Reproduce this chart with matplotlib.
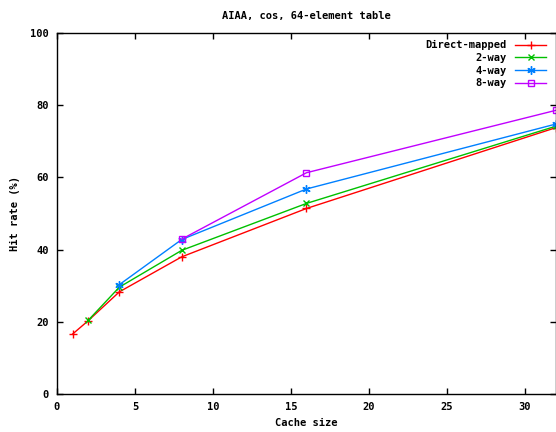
import matplotlib
matplotlib.use("Agg")
import matplotlib.pyplot as plt

title = "AIAA, cos, 64-element table"
xlabel = "Cache size"
ylabel = "Hit rate (%)"

dm_x = [1, 2, 4, 8, 16, 32]
dm_y = [16.6, 20.3, 28.3, 38.0, 51.4, 73.8]
w2_x = [2, 4, 8, 16, 32]
w2_y = [20.4, 29.6, 39.8, 52.8, 74.2]
w4_x = [4, 8, 16, 32]
w4_y = [30.3, 42.8, 56.8, 74.8]
w8_x = [8, 16, 32]
w8_y = [42.9, 61.3, 78.6]

xticks = [0, 5, 10, 15, 20, 25, 30]
yticks = [0, 20, 40, 60, 80, 100]

plt.rcParams['font.family'] = ['DejaVu Sans Mono']
plt.rcParams['font.weight'] = 'bold'
plt.rcParams['font.size'] = 7.5

fig = plt.figure(figsize=(5.56, 4.32), dpi=100)
ax = fig.add_axes([0.1025, 0.088, 0.8975, 0.8355])

ax.plot(dm_x, dm_y, color='#ff0000', lw=1, marker='+', ms=6, mew=1, label='Direct-mapped')
ax.plot(w2_x, w2_y, color='#00c000', lw=1, marker='x', ms=5, mew=1, label='2-way')
ax.plot(w4_x, w4_y, color='#0080ff', lw=1, marker=(6, 2, 0), ms=6, mew=1, label='4-way')
ax.plot(w8_x, w8_y, color='#c000ff', lw=1, marker='s', ms=5, mew=1, mfc='none', label='8-way')

ax.set_xlim(0, 32)
ax.set_ylim(0, 100)
ax.set_xticks(xticks)
ax.set_yticks(yticks)
ax.tick_params(direction='in', top=True, right=True, length=4, width=1, pad=6)
for s in ax.spines.values():
    s.set_linewidth(1)

ax.set_title(title, fontsize=7.5, fontweight='bold', pad=10)
ax.set_xlabel(xlabel, fontweight='bold', labelpad=4)
ax.set_ylabel(ylabel, fontweight='bold', labelpad=7)

leg = ax.legend(loc='upper right', markerfirst=False, frameon=False,
                handlelength=3, labelspacing=0.25, borderaxespad=0.3,
                handletextpad=0.8, bbox_to_anchor=(0.995, 1.0))
for t in leg.get_texts():
    t.set_ha('right')

fig.savefig('out.png', dpi=100)
